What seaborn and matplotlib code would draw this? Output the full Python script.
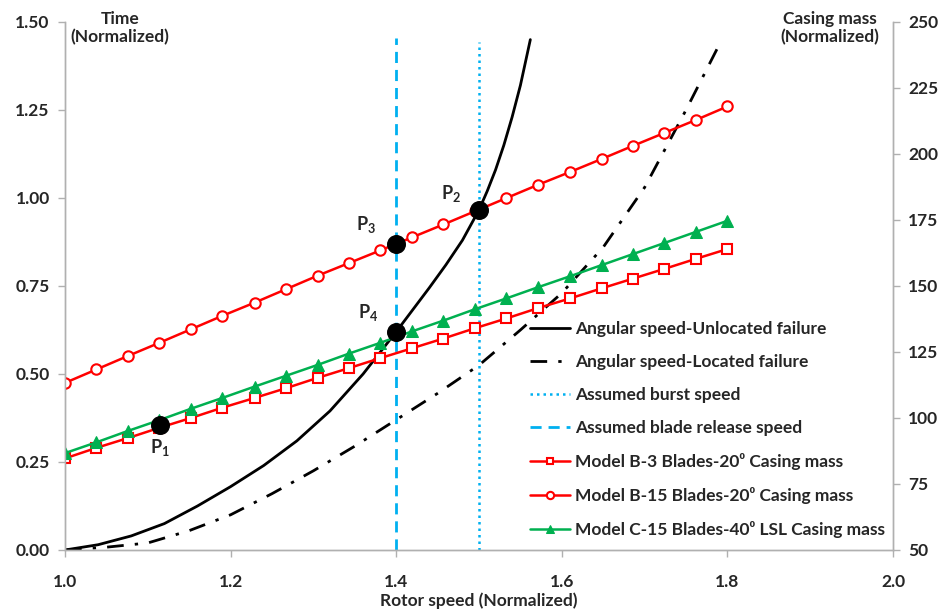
import numpy as np
import pandas as pd
import matplotlib
matplotlib.use("Agg")
import matplotlib.pyplot as plt
import seaborn as sns

# ---------------- data ----------------
rotor_speed = [1.000, 1.038, 1.076, 1.114, 1.152, 1.190, 1.229, 1.267, 1.305, 1.343, 1.381,
               1.419, 1.457, 1.495, 1.533, 1.571, 1.610, 1.648, 1.686, 1.724, 1.762, 1.800]
mass_b3 = [84.7, 88.7, 92.4, 96.3, 100.0, 103.9, 107.6, 111.3, 115.2, 118.9, 122.7,
           126.4, 130.1, 134.0, 137.7, 141.6, 145.3, 149.1, 152.8, 156.5, 160.3, 164.0]
mass_b15 = [113.3, 118.4, 123.5, 128.5, 133.6, 138.7, 143.7, 148.8, 153.9, 158.7, 163.5,
            168.4, 173.3, 178.3, 183.3, 188.3, 193.2, 198.1, 203.1, 208.0, 212.9, 218.0]
mass_c15 = [86.7, 90.8, 95.1, 99.2, 103.5, 107.6, 111.9, 116.0, 120.1, 124.4, 128.5,
            132.8, 136.9, 141.2, 145.3, 149.5, 153.7, 157.9, 162.1, 166.3, 170.5, 174.7]

unloc_speed = [1.00, 1.04, 1.08, 1.12, 1.16, 1.20, 1.24, 1.28, 1.32, 1.36, 1.38, 1.40,
               1.44, 1.46, 1.48, 1.50, 1.51, 1.52, 1.53, 1.54, 1.55, 1.562]
unloc_time = [0.0, 0.015, 0.04, 0.075, 0.125, 0.18, 0.24, 0.31, 0.395, 0.50, 0.56, 0.62,
              0.745, 0.81, 0.88, 0.966, 1.02, 1.08, 1.15, 1.23, 1.32, 1.45]

loc_speed = [1.00, 1.05, 1.10, 1.15, 1.20, 1.25, 1.30, 1.35, 1.40, 1.45, 1.50, 1.55,
             1.60, 1.65, 1.70, 1.75, 1.79]
loc_time = [0.0, 0.008, 0.02, 0.055, 0.10, 0.16, 0.225, 0.295, 0.37, 0.445, 0.525, 0.625,
            0.73, 0.86, 1.03, 1.25, 1.435]

release_speed = 1.4
burst_speed = 1.5
release_line_top = 1.455
burst_line_top = 1.443

p_labels = ["P$_\\mathbf{1}$", "P$_\\mathbf{2}$", "P$_\\mathbf{3}$", "P$_\\mathbf{4}$"]
p_speed = [1.115, 1.5, 1.4, 1.4]
p_time = [0.355, 0.966, 0.87, 0.62]

legend_labels = [
    "Angular speed-Unlocated failure",
    "Angular speed-Located failure",
    "Assumed burst speed",
    "Assumed blade release speed",
    "Model B-3 Blades-20\u2070 Casing mass",
    "Model B-15 Blades-20\u2070 Casing mass",
    "Model C-15 Blades-40\u2070 LSL Casing mass",
]

# ---------------- style ----------------
sns.set_theme(style="white")
plt.rcParams["font.family"] = ["Lato", "DejaVu Sans"]
plt.rcParams["font.weight"] = "bold"
plt.rcParams["mathtext.fontset"] = "custom"
plt.rcParams["mathtext.rm"] = "Lato:bold"
plt.rcParams["mathtext.bf"] = "Lato:bold"
plt.rcParams["mathtext.it"] = "Lato:bold"

RED = "#FF0000"
GREEN = "#00B050"
BLUE = "#00B0F0"

fig = plt.figure(figsize=(9.38, 6.13), dpi=100)
rect = [65 / 938, 63 / 613, 828 / 938, 528 / 613]
ax = fig.add_axes(rect)
ax2 = ax.twinx()

# left axis curves
sns.lineplot(x=unloc_speed, y=unloc_time, ax=ax, color="black", lw=2.0,
             label=legend_labels[0], legend=False)
sns.lineplot(x=loc_speed, y=loc_time, ax=ax, color="black", lw=2.0,
             linestyle=(0, (6, 4, 1.2, 4)), label=legend_labels[1], legend=False)
sns.lineplot(x=[burst_speed, burst_speed], y=[0, burst_line_top], ax=ax, color=BLUE,
             lw=1.8, linestyle=(0, (1, 1.6)), label=legend_labels[2], legend=False,
             estimator=None, sort=False)
sns.lineplot(x=[release_speed, release_speed], y=[0, release_line_top], ax=ax, color=BLUE,
             lw=2.0, linestyle=(0, (4, 2.5)), label=legend_labels[3], legend=False,
             estimator=None, sort=False)

# right axis casing masses
sns.lineplot(x=rotor_speed, y=mass_b3, ax=ax2, color=RED, lw=1.8, marker="s",
             markersize=7, markerfacecolor="white", markeredgecolor=RED, markeredgewidth=1.5,
             label=legend_labels[4], legend=False)
sns.lineplot(x=rotor_speed, y=mass_b15, ax=ax2, color=RED, lw=1.8, marker="o",
             markersize=7.5, markerfacecolor="white", markeredgecolor=RED, markeredgewidth=1.5,
             label=legend_labels[5], legend=False)
sns.lineplot(x=rotor_speed, y=mass_c15, ax=ax2, color=GREEN, lw=1.8, marker="^",
             markersize=8, markerfacecolor=GREEN, markeredgecolor=GREEN,
             label=legend_labels[6], legend=False)

# key points on a transparent overlay in left-axis units
ax_pts = fig.add_axes(rect, frameon=False)
ax_pts.set_xlim(1.0, 2.0)
ax_pts.set_ylim(0, 1.5)
sns.scatterplot(x=p_speed, y=p_time, ax=ax_pts, color="black", s=160, zorder=5,
                legend=False, edgecolor="black")
p_offsets = [(0, -16), (-20, 12), (-22, 14), (-20, 14)]
for lab, xs, ts, off in zip(p_labels, p_speed, p_time, p_offsets):
    ax_pts.annotate(lab, (xs, ts), xytext=off, textcoords="offset points",
                    ha="center", va="center", fontsize=13, fontweight="bold")
ax_pts.set_xlim(1.0, 2.0)
ax_pts.set_ylim(0, 1.5)
ax_pts.axis("off")

# axes formatting
ax.set_xlim(1.0, 2.0)
ax.set_ylim(0, 1.5)
ax2.set_ylim(50, 250)
ax.set_xticks([1.0, 1.2, 1.4, 1.6, 1.8, 2.0])
ax.set_yticks([0, 0.25, 0.5, 0.75, 1.0, 1.25, 1.5])
ax2.set_yticks([50, 75, 100, 125, 150, 175, 200, 225, 250])
ax.set_xticklabels([f"{v:.1f}" for v in ax.get_xticks()])
ax.set_yticklabels([f"{v:.2f}" for v in ax.get_yticks()])
ax2.set_yticklabels([f"{int(v)}" for v in ax2.get_yticks()])
ax2.yaxis.tick_right()
ax.yaxis.tick_left()

for a in (ax, ax2):
    a.spines["top"].set_visible(False)
    for s in ("left", "right", "bottom"):
        a.spines[s].set_color("#B0B0B0")
        a.spines[s].set_linewidth(1.0)
    a.tick_params(axis="both", which="major", labelsize=12.5, length=5, width=1.0,
                  color="#B0B0B0", pad=6)
ax.tick_params(axis="x", direction="out", bottom=True, pad=12)
ax.tick_params(axis="y", direction="out", left=True)
ax2.tick_params(axis="y", direction="out", right=True)
for lab in ax.get_xticklabels() + ax.get_yticklabels() + ax2.get_yticklabels():
    lab.set_fontweight("bold")

ax.set_xlabel("Rotor speed (Normalized)", fontsize=12.5, fontweight="bold", labelpad=2)
ax.set_ylabel("")
ax2.set_ylabel("")
fig.text(120 / 938, 1 - 28 / 613, "Time\n(Normalized)", ha="center", va="center",
         fontsize=12.5, fontweight="bold", linespacing=1.1)
fig.text(830 / 938, 1 - 28 / 613, "Casing mass\n(Normalized)", ha="center", va="center",
         fontsize=12.5, fontweight="bold", linespacing=1.1)

# legend
h1, l1 = ax.get_legend_handles_labels()
h2, l2 = ax2.get_legend_handles_labels()
leg = ax_pts.legend(h1 + h2, l1 + l2, loc="upper left",
                    bbox_to_anchor=(530 / 938, 1 - 321 / 613), bbox_transform=fig.transFigure,
                    frameon=False, fontsize=12.5, handlelength=2.3, handletextpad=0.3,
                    labelspacing=0.98, borderpad=0, borderaxespad=0, markerscale=0.7)
for t in leg.get_texts():
    t.set_fontweight("bold")

fig.savefig("out.png", dpi=100)
